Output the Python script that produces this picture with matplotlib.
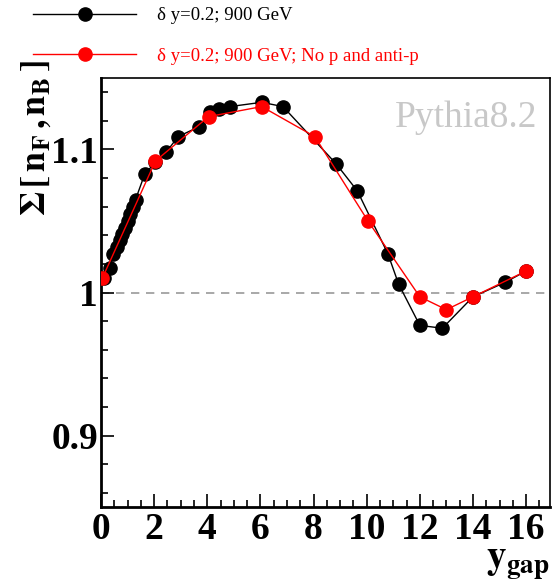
import numpy as np
import matplotlib
matplotlib.use("Agg")
import matplotlib.pyplot as plt
from matplotlib.ticker import MultipleLocator, FixedLocator, FixedFormatter

plt.rcParams['font.family'] = ['Liberation Serif', 'DejaVu Serif']
plt.rcParams['mathtext.fontset'] = 'stix'

# black: all particles
x_all = [0.1, 0.35, 0.45, 0.6, 0.7, 0.8, 0.9, 1.0, 1.1, 1.2, 1.3, 1.65, 2.05, 2.45,
         2.9, 3.7, 4.1, 4.45, 4.85, 6.05, 6.85, 8.85, 9.65, 10.8, 11.2, 12.0,
         12.85, 14.0, 15.2, 16.0]
y_all = [1.010, 1.017, 1.027, 1.032, 1.037, 1.041, 1.045, 1.050, 1.055, 1.060, 1.065,
         1.083, 1.091, 1.098, 1.109, 1.116, 1.126, 1.128, 1.130, 1.133, 1.130, 1.090,
         1.071, 1.027, 1.006, 0.977, 0.975, 0.997, 1.007, 1.015]

# red: no p and anti-p
x_nop = [0.05, 2.05, 4.05, 6.05, 8.05, 10.05, 12.0, 13.0, 14.0, 16.0]
y_nop = [1.010, 1.092, 1.123, 1.130, 1.109, 1.050, 0.997, 0.988, 0.997, 1.015]
e_nop = [0.0, 0.0, 0.0, 0.0, 0.0, 0.0, 0.0, 0.0, 0.0, 0.003]

labels = ["δ y=0.2; 900 GeV", "δ y=0.2; 900 GeV; No p and anti-p"]

fig = plt.figure(figsize=(5.52, 5.85), dpi=100)
ax = fig.add_axes([101/552, 1 - 507/585, 449/552, 429/585])

ax.axhline(1.0, color='#999999', lw=1.2, ls=(0, (5, 4)), zorder=1)

l1, = ax.plot(x_all, y_all, '-o', color='black', lw=1.0, ms=9.5, zorder=3)
ax.errorbar(x_nop, y_nop, yerr=e_nop, fmt='none', ecolor='red', elinewidth=1.5, zorder=4)
l2, = ax.plot(x_nop, y_nop, '-o', color='red', lw=1.0, ms=9.5, zorder=5)

ax.set_xlim(0, 16.9)
ax.set_ylim(0.85, 1.15)

ax.xaxis.set_major_locator(MultipleLocator(2))
ax.xaxis.set_minor_locator(MultipleLocator(0.5))
ax.yaxis.set_major_locator(FixedLocator([0.9, 1.0, 1.1]))
ax.yaxis.set_major_formatter(FixedFormatter(["0.9", "1", "1.1"]))
ax.yaxis.set_minor_locator(MultipleLocator(0.02))

ax.tick_params(which='both', direction='in', top=False, right=False, width=1.2)
ax.tick_params(which='major', length=9.5, labelsize=27)
ax.tick_params(axis='y', which='major', pad=2)
ax.tick_params(which='minor', length=5)
for lab in ax.get_xticklabels() + ax.get_yticklabels():
    lab.set_fontweight('bold')
for s in ax.spines.values():
    s.set_linewidth(1.2)
ax.spines['left'].set_linewidth(2)
ax.spines['bottom'].set_linewidth(2)

ax.text(537/552, 1 - 118/585, "Pythia8.2", transform=fig.transFigure, ha='right',
        va='center', fontsize=27, color='#c8c8c8')

fig.text(36/552, 1 - 60/585,
         r'$\mathbf{\Sigma}\,\mathbf{[}\,\mathbf{n_{F}}\,\mathbf{,}\,\mathbf{n_{B}}\,\mathbf{]}$',
         rotation=90, ha='center', va='top', fontsize=26)
fig.text(550/552, 2/585, r'$\mathbf{y_{gap}}$', ha='right', va='bottom', fontsize=28)

fig.legend([l1, l2], labels, loc='upper left', bbox_to_anchor=(33/552, 1 - 7/585),
           frameon=False, fontsize=13.5, handlelength=5.5, handletextpad=1.1,
           labelspacing=1.25, borderpad=0, borderaxespad=0)
leg = fig.legends[0]
leg.get_texts()[1].set_color('red')

fig.savefig("out.png", dpi=100)
